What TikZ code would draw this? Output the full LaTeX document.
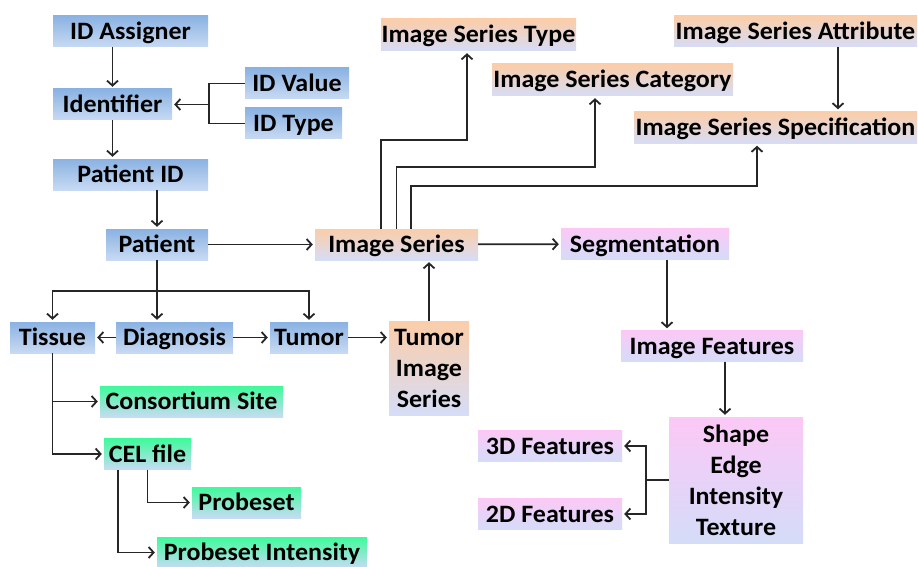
\documentclass[tikz,border=0pt]{standalone}
\usepackage{fontspec}
\setmainfont{Carlito}[FakeStretch=1.04]
\usetikzlibrary{arrows.meta,positioning,calc}
\newcommand\boxfont{\fontsize{25}{31}\selectfont\bfseries}

\begin{document}
\begin{tikzpicture}[
  x=1pt, y=-1pt,
  box/.style={rectangle, inner sep=0pt, minimum height=31pt, text height=21pt, text depth=5pt, font=\boxfont},
  tallbox/.style={rectangle, inner sep=0pt, align=center, font=\boxfont},
  bluefill/.style={top color=idtop, bottom color=idbottom},
  orangefill/.style={top color=seriestop, bottom color=seriesbottom},
  greenfill/.style={top color=tissuetop, bottom color=tissuebottom},
  pinkfill/.style={top color=featuretop, bottom color=featurebottom},
  conn/.style={line width=1.8pt, black!85},
  arrow/.style={conn, -{Straight Barb[length=5pt,width=11pt]}, shorten >=2pt}
]
\definecolor{idtop}{HTML}{8AB2E2}
\definecolor{idbottom}{HTML}{C8DAF3}
\definecolor{seriestop}{HTML}{FBCDA8}
\definecolor{seriesbottom}{HTML}{D6DDF7}
\definecolor{tissuetop}{HTML}{3DFB9B}
\definecolor{tissuebottom}{HTML}{C8DBF4}
\definecolor{featuretop}{HTML}{FCC8F6}
\definecolor{featurebottom}{HTML}{D4DCF8}

\useasboundingbox (0,0) rectangle (918,567);

\node[box, bluefill, minimum width=155pt] (idassigner) at (130.5,31.5) {ID Assigner};
\node[box, bluefill, minimum width=119pt] (identifier) at (112.5,104.5) {Identifier};
\node[box, bluefill, minimum width=104pt] (idvalue) at (297,83.5) {ID Value};
\node[box, bluefill, minimum width=97pt] (idtype) at (293.5,123.5) {ID Type};
\node[box, bluefill, minimum width=155pt] (patientid) at (130.5,174.5) {Patient ID};
\node[box, bluefill, minimum width=102pt] (patient) at (157,244.5) {Patient};
\node[box, bluefill, minimum width=85pt] (tissue) at (52.5,337.5) {Tissue};
\node[box, bluefill, minimum width=117pt] (diagnosis) at (174.5,337.5) {Diagnosis};
\node[box, bluefill, minimum width=78pt] (tumor) at (309,337.5) {Tumor};

\node[box, greenfill, minimum width=183pt] (consortium) at (191.5,401.5) {Consortium Site};
\node[box, greenfill, minimum width=87pt] (celfile) at (147.5,454) {CEL file};
\node[box, greenfill, minimum width=109pt] (probeset) at (246.5,502.5) {Probeset};
\node[box, greenfill, minimum width=210pt] (probint) at (262,552.5) {Probeset Intensity};

\node[box, orangefill, minimum width=163pt] (imgseries) at (396.5,244.5) {Image Series};
\node[tallbox, orangefill, minimum width=80pt, minimum height=94pt] (tumorimg) at (429,368) {Tumor\\Image\\Series};
\node[box, orangefill, minimum width=195pt, minimum height=32pt] (istype) at (478.5,35) {Image Series Type};
\node[box, orangefill, minimum width=241pt, minimum height=32pt] (iscategory) at (612.5,80) {Image Series Category};
\node[box, orangefill, minimum width=243pt] (isattribute) at (795.5,31.5) {Image Series Attribute};
\node[box, orangefill, minimum width=283pt, minimum height=32pt] (isspec) at (775.5,127.5) {Image Series Specification};

\node[box, pinkfill, minimum width=168pt] (segmentation) at (645,244) {Segmentation};
\node[box, pinkfill, minimum width=182pt] (imgfeatures) at (712,346) {Image Features};
\node[tallbox, pinkfill, minimum width=134pt, minimum height=126pt] (featlist) at (736,480) {Shape\\Edge\\Intensity\\Texture};
\node[box, pinkfill, minimum width=144pt] (feat3d) at (550,446) {3D Features};
\node[box, pinkfill, minimum width=144pt] (feat2d) at (550,514) {2D Features};

\coordinate (idjoin) at (209,104.5);
\coordinate (ptsplit) at (157,291);
\coordinate (bendtype) at (467,140);
\coordinate (bendcat) at (595,167);
\coordinate (bendspec) at (757,186);
\coordinate (featjoin) at (646,480);

\draw[arrow] (identifier.north |- idassigner.south) -- (identifier.north);
\draw[arrow] (identifier.south) -- (identifier.south |- patientid.north);
\draw[conn] (idvalue.west) -| (idjoin);
\draw[conn] (idtype.west) -| (idjoin);
\draw[arrow] (idjoin) -- (identifier);
\draw[arrow] (patientid.south -| patient) -- (patient);
\draw[arrow] (patient) -- (imgseries);
\draw[arrow] (patient.south) -- (patient.south |- diagnosis.north);
\draw[arrow] (ptsplit) -| (tissue);
\draw[arrow] (ptsplit) -| (tumor);
\draw[arrow] (diagnosis) -- (tissue);
\draw[arrow] (diagnosis) -- (tumor);
\draw[arrow] (tumor) -- (tumor -| tumorimg.west);
\draw[arrow] (tumorimg) -- (tumorimg |- imgseries.south);
\draw[arrow] (tissue.south) |- (consortium);
\draw[arrow] (tissue.south) |- (celfile);
\draw[arrow] (celfile.south) |- (probeset);
\draw[arrow] ($(celfile.south)+(-29.5,0)$) |- (probint);

\draw[arrow] ([xshift=-15.5pt]imgseries.north) |- (bendtype) -- (bendtype |- istype.south);
\draw[arrow] (imgseries.north) |- (bendcat) -- (bendcat |- iscategory.south);
\draw[arrow] ([xshift=14.5pt]imgseries.north) |- (bendspec) -- (bendspec |- isspec.south);
\draw[arrow] ([xshift=42.5pt]isattribute.south) -- ([xshift=42.5pt]isattribute.south |- isspec.north);

\draw[arrow] (imgseries) -- (segmentation);
\draw[arrow] ([xshift=22pt]segmentation.south) -- ([xshift=22pt]segmentation.south |- imgfeatures.north);
\draw[arrow] ([xshift=13pt]imgfeatures.south) -- ([xshift=13pt]imgfeatures.south |- featlist.north);
\draw[conn] (featlist.west) -- (featjoin);
\draw[arrow] (featjoin) |- (feat3d);
\draw[arrow] (featjoin) |- (feat2d);

\end{tikzpicture}
\end{document}
